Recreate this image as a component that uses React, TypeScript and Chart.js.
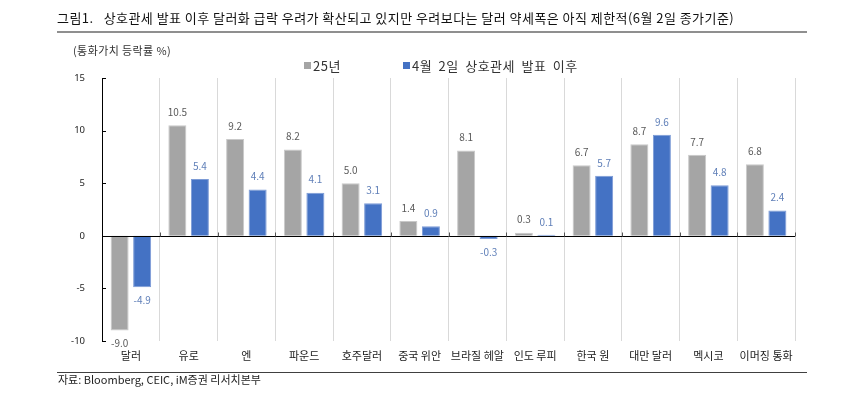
import React, { useEffect, useRef } from "react";
import { Chart, registerables } from "chart.js";

Chart.register(...registerables);

const categories = ["달러", "유로", "엔", "파운드", "호주달러", "중국 위안", "브라질 헤알", "인도 루피", "한국 원", "대만 달러", "멕시코", "이머징 통화"];
const series25 = [-9.0, 10.5, 9.2, 8.2, 5.0, 1.4, 8.1, 0.3, 6.7, 8.7, 7.7, 6.8];
const seriesApr = [-4.9, 5.4, 4.4, 4.1, 3.1, 0.9, -0.3, 0.1, 5.7, 9.6, 4.8, 2.4];
const seriesNames = ["25년", "4월 2일 상호관세 발표 이후"];
const yTicks = [-10, -5, 0, 5, 10, 15];

const FONT = "'Noto Sans CJK KR', 'Noto Sans', sans-serif";
const GRAY = "#A5A5A5";
const BLUE = "#4472C4";

const overlayPlugin = {
  id: "overlay",
  afterDatasetsDraw(chart: any) {
    const { ctx, chartArea } = chart;
    const y = chart.scales.y;
    const zeroY = Math.round(y.getPixelForValue(0)) + 0.5;
    ctx.save();
    ctx.strokeStyle = "#000";
    ctx.lineWidth = 1;
    ctx.beginPath();
    ctx.moveTo(Math.round(chartArea.left) + 0.5, chartArea.top);
    ctx.lineTo(Math.round(chartArea.left) + 0.5, chartArea.bottom);
    ctx.stroke();
    yTicks.forEach((v) => {
      const py = Math.round(y.getPixelForValue(v)) + 0.5;
      ctx.beginPath();
      ctx.moveTo(chartArea.left, py);
      ctx.lineTo(chartArea.left + 4, py);
      ctx.stroke();
    });
    ctx.beginPath();
    ctx.moveTo(chartArea.left, zeroY);
    ctx.lineTo(chartArea.right, zeroY);
    ctx.stroke();
    const n = categories.length;
    const w = (chartArea.right - chartArea.left) / n;
    ctx.strokeStyle = "#555";
    for (let i = 1; i <= n; i++) {
      const px = Math.round(chartArea.left + i * w) + 0.5;
      ctx.beginPath();
      ctx.moveTo(px, zeroY - 4);
      ctx.lineTo(px, zeroY);
      ctx.stroke();
    }
    ctx.font = `10px ${FONT}`;
    ctx.textAlign = "center";
    ctx.textBaseline = "middle";
    chart.data.datasets.forEach((ds: any, di: number) => {
      const meta = chart.getDatasetMeta(di);
      ctx.fillStyle = di === 0 ? "#595959" : "#5F7FB8";
      meta.data.forEach((el: any, i: number) => {
        const v = ds.data[i];
        const ty = v >= 0 ? el.y - 13 : el.y + 13;
        ctx.fillText(v.toFixed(1), el.x, ty);
      });
    });
    ctx.restore();
  },
};

function ChartView() {
  const ref = useRef<HTMLCanvasElement | null>(null);
  useEffect(() => {
    if (!ref.current) return;
    const chart = new Chart(ref.current, {
      type: "bar",
      data: {
        labels: categories,
        datasets: [
          { label: seriesNames[0], data: series25, backgroundColor: GRAY, borderColor: "#C9C9C9", borderWidth: 1, categoryPercentage: 0.78, barPercentage: 0.8 },
          { label: seriesNames[1], data: seriesApr, backgroundColor: BLUE, borderColor: "#7C9BD6", borderWidth: 1, categoryPercentage: 0.78, barPercentage: 0.8 },
        ],
      },
      options: {
        responsive: false,
        animation: false,
        devicePixelRatio: 1,
        layout: { padding: { left: 40, top: 78, right: 54, bottom: 0 } },
        plugins: { legend: { display: false }, tooltip: { enabled: false }, title: { display: false } },
        scales: {
          x: {
            grid: { display: true, color: "#D9D9D9", offset: true, drawTicks: false },
            border: { display: false },
            ticks: { font: { family: FONT, size: 11 }, color: "#222", padding: 8, maxRotation: 0, autoSkip: false },
            afterFit: (s: any) => { s.height = 55; },
          },
          y: {
            min: -10,
            max: 15,
            ticks: { stepSize: 5, font: { family: "'Noto Sans', sans-serif", size: 9.5 }, color: "#222", padding: 17 },
            grid: { display: false, drawTicks: false },
            border: { display: false },
            afterFit: (s: any) => { s.width = 62; },
          },
        },
      },
      plugins: [overlayPlugin],
    });
    return () => chart.destroy();
  }, []);
  return <canvas ref={ref} width={849} height={396} style={{ position: "absolute", left: 0, top: 0, width: 849, height: 396 }} />;
}

export default function App() {
  const txt: React.CSSProperties = { position: "absolute", fontFamily: FONT, whiteSpace: "nowrap", lineHeight: 1, color: "#222" };
  return (
    <div style={{ position: "fixed", left: 0, top: 0, width: 849, height: 396, background: "#fff", overflow: "hidden" }}>
      <ChartView />
      <div style={{ ...txt, left: 57, top: 11, fontSize: 13, letterSpacing: 0.45, color: "#111" }}>
        그림1.&nbsp;&nbsp;&nbsp;상호관세 발표 이후 달러화 급락 우려가 확산되고 있지만 우려보다는 달러 약세폭은 아직 제한적(6월 2일 종가기준)
      </div>
      <div style={{ position: "absolute", left: 57, top: 31, width: 750, height: 2, background: "#8F8F8F" }} />
      <div style={{ ...txt, left: 73, top: 45, fontSize: 11, letterSpacing: 0.4, color: "#333" }}>(통화가치 등락률 %)</div>
      <div style={{ ...txt, left: 304, top: 59, fontSize: 13, letterSpacing: 0.5, color: "#333", display: "flex", alignItems: "center" }}>
        <span style={{ display: "inline-block", width: 7, height: 7, background: GRAY, marginRight: 2 }} />
        {seriesNames[0]}
      </div>
      <div style={{ ...txt, left: 403, top: 59, fontSize: 13, letterSpacing: 0.5, color: "#333", display: "flex", alignItems: "center", wordSpacing: 3 }}>
        <span style={{ display: "inline-block", width: 7, height: 7, background: BLUE, marginRight: 2 }} />
        {seriesNames[1]}
      </div>
      <div style={{ position: "absolute", left: 57, top: 372, width: 750, height: 1, background: "#404040" }} />
      <div style={{ ...txt, left: 58, top: 374, fontSize: 11, color: "#222" }}>자료: Bloomberg, CEIC, iM증권 리서치본부</div>
    </div>
  );
}
